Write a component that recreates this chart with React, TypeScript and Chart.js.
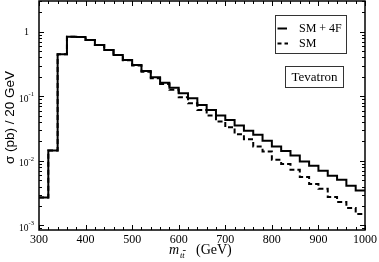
import React, { useEffect, useRef } from "react";
import { Chart, registerables } from "chart.js";

Chart.register(...registerables);

// Bin lower edges (GeV), 20 GeV bins
const binStarts = [
  300, 320, 340, 360, 380, 400, 420, 440, 460, 480,
  500, 520, 540, 560, 580, 600, 620, 640, 660, 680,
  700, 720, 740, 760, 780, 800, 820, 840, 860, 880,
  900, 920, 940, 960, 980,
];
const lastEdge = 1000;

// sigma (pb) / 20 GeV
const smPlus4F = [
  0.00272, 0.0145, 0.448, 0.837, 0.828, 0.744, 0.623, 0.521, 0.436, 0.365,
  0.306, 0.247, 0.197, 0.163, 0.136, 0.112, 0.0935, 0.0737, 0.0616, 0.0503,
  0.0432, 0.0352, 0.0292, 0.0253, 0.0205, 0.0167, 0.0142, 0.0121, 0.0098, 0.0084,
  0.00703, 0.00589, 0.00511, 0.00412, 0.00349,
];
const smOnly = [
  0.00272, 0.0145, 0.448, 0.837, 0.828, 0.744, 0.623, 0.521, 0.436, 0.362,
  0.300, 0.240, 0.190, 0.155, 0.126, 0.0968, 0.0782, 0.0616, 0.0503, 0.0406,
  0.0333, 0.0259, 0.0217, 0.0167, 0.0140, 0.0104, 0.00893, 0.00728, 0.00562, 0.00438,
  0.00370, 0.00276, 0.00231, 0.00186, 0.00151,
];

const xMajorTicks = [300, 400, 500, 600, 700, 800, 900, 1000];
const yDecadeTicks = [0.001, 0.01, 0.1, 1];
const yDecadeExponents = ["-3", "-2", "-1", "0"];
const legendLabels = ["SM + 4F", "SM"];
const boxLabel = "Tevatron";
const yTitle = "σ (pb) / 20 GeV";

const X_MIN = 300;
const X_MAX = 1000;
const Y_MIN = 0.00085;
const Y_MAX = 3;

function toSteps(values: number[]) {
  const pts = binStarts.map((x, i) => ({ x, y: values[i] }));
  pts.push({ x: lastEdge, y: values[values.length - 1] });
  return pts;
}

const serif = "'Liberation Serif', 'DejaVu Serif', serif";
const sans = "'Liberation Sans', Arial, sans-serif";

const decorPlugin = {
  id: "decor",
  afterDraw(chart: any) {
    const ctx: CanvasRenderingContext2D = chart.ctx;
    const xs = chart.scales.x;
    const ys = chart.scales.y;
    const { left, right, top, bottom } = chart.chartArea;
    ctx.save();
    ctx.strokeStyle = "#000";
    ctx.fillStyle = "#000";

    // frame
    ctx.lineWidth = 1.5;
    ctx.strokeRect(left, top, right - left, bottom - top);

    // x ticks (inward, top and bottom)
    ctx.lineWidth = 1;
    for (let v = X_MIN; v <= X_MAX; v += 20) {
      const px = Math.round(xs.getPixelForValue(v)) + 0.5;
      const major = v % 100 === 0;
      const len = major ? 5 : 3;
      ctx.beginPath();
      ctx.moveTo(px, bottom);
      ctx.lineTo(px, bottom - len);
      ctx.moveTo(px, top);
      ctx.lineTo(px, top + len);
      ctx.stroke();
    }
    // y ticks (log, inward, left and right)
    for (let d = -4; d <= 0; d++) {
      for (let k = 1; k <= 9; k++) {
        const v = k * Math.pow(10, d);
        if (v < Y_MIN || v > Y_MAX) continue;
        const py = Math.round(ys.getPixelForValue(v)) + 0.5;
        const len = k === 1 ? 5 : 3;
        ctx.beginPath();
        ctx.moveTo(left, py);
        ctx.lineTo(left + len, py);
        ctx.moveTo(right, py);
        ctx.lineTo(right - len, py);
        ctx.stroke();
      }
    }

    // x tick labels
    ctx.font = `12px ${serif}`;
    ctx.textAlign = "center";
    ctx.textBaseline = "alphabetic";
    xMajorTicks.forEach((v) => {
      ctx.fillText(String(v), xs.getPixelForValue(v), 243);
    });

    // y tick labels
    const cx = 26.5;
    yDecadeTicks.forEach((v, i) => {
      const py = ys.getPixelForValue(v);
      if (v === 1) {
        ctx.font = `10px ${serif}`;
        ctx.textAlign = "center";
        ctx.fillText("1", cx, py + 3.5);
        return;
      }
      ctx.font = `9.5px ${serif}`;
      const wBase = ctx.measureText("10").width;
      ctx.font = `6.5px ${serif}`;
      const exp = yDecadeExponents[i];
      const wExp = ctx.measureText(exp).width;
      const x0 = cx - (wBase + wExp) / 2;
      ctx.textAlign = "left";
      ctx.font = `9.5px ${serif}`;
      ctx.fillText("10", x0, py + 5.5);
      ctx.font = `6.5px ${serif}`;
      ctx.fillText(exp, x0 + wBase, py);
    });

    // x axis title: m_{t tbar} (GeV)
    ctx.textAlign = "left";
    ctx.font = `italic 14px ${serif}`;
    ctx.fillText("m", 169, 253.5);
    ctx.font = `italic 8.5px ${serif}`;
    ctx.fillText("tt", 180, 257.5);
    const tW = ctx.measureText("t").width;
    ctx.lineWidth = 0.8;
    ctx.beginPath();
    ctx.moveTo(180 + tW + 0.5, 250.5);
    ctx.lineTo(180 + 2 * tW + 1, 250.5);
    ctx.stroke();
    ctx.font = `14px ${serif}`;
    ctx.fillText("(GeV)", 196, 253.5);

    // y axis title
    ctx.save();
    ctx.translate(10.5, 117.5);
    ctx.rotate(-Math.PI / 2);
    ctx.font = `13.5px ${sans}`;
    ctx.textAlign = "center";
    ctx.textBaseline = "middle";
    ctx.fillText(yTitle, 0, 0);
    ctx.restore();

    // legend box
    ctx.lineWidth = 1;
    ctx.strokeStyle = "#333";
    ctx.strokeRect(275.5, 15.5, 71, 38);
    ctx.strokeStyle = "#000";
    ctx.lineWidth = 2;
    const ly = [28.5, 43.5];
    ctx.beginPath();
    ctx.moveTo(277.5, ly[0]);
    ctx.lineTo(287, ly[0]);
    ctx.stroke();
    ctx.setLineDash([4, 3]);
    ctx.beginPath();
    ctx.moveTo(277.5, ly[1]);
    ctx.lineTo(288, ly[1]);
    ctx.stroke();
    ctx.setLineDash([]);
    ctx.font = `12px ${serif}`;
    ctx.textAlign = "left";
    ctx.textBaseline = "middle";
    ctx.fillText(legendLabels[0], 299, ly[0] + 0.5);
    ctx.fillText(legendLabels[1], 299, ly[1] + 0.5);

    // Tevatron box
    ctx.lineWidth = 1;
    ctx.strokeStyle = "#333";
    ctx.strokeRect(285.5, 66.5, 58, 21);
    ctx.font = `13px ${serif}`;
    ctx.textAlign = "center";
    ctx.fillText(boxLabel, 314.5, 77.5);

    ctx.restore();
  },
};

export default function App() {
  const ref = useRef<HTMLCanvasElement | null>(null);
  useEffect(() => {
    document.body.style.margin = "0";
    const canvas = ref.current;
    if (!canvas) return;
    const chart = new Chart(canvas, {
      type: "line",
      data: {
        datasets: [
          {
            label: legendLabels[0],
            data: toSteps(smPlus4F),
            stepped: "before",
            borderColor: "#000",
            borderWidth: 2,
            pointRadius: 0,
            fill: false,
            order: 0,
          },
          {
            label: legendLabels[1],
            data: toSteps(smOnly),
            stepped: "before",
            borderColor: "#000",
            borderWidth: 2,
            borderDash: [5, 3],
            pointRadius: 0,
            fill: false,
            order: 1,
          },
        ],
      },
      options: {
        animation: false,
        responsive: false,
        maintainAspectRatio: false,
        devicePixelRatio: 1,
        layout: { padding: { left: 39, right: 14, top: 1, bottom: 32 } },
        plugins: { legend: { display: false }, tooltip: { enabled: false } },
        scales: {
          x: { type: "linear", min: X_MIN, max: X_MAX, display: false },
          y: { type: "logarithmic", min: Y_MIN, max: Y_MAX, display: false },
        },
      },
      plugins: [decorPlugin],
    });
    return () => chart.destroy();
  }, []);
  return (
    <div style={{ width: 379, height: 262, background: "#fff" }}>
      <canvas ref={ref} width={379} height={262} style={{ display: "block" }} />
    </div>
  );
}
